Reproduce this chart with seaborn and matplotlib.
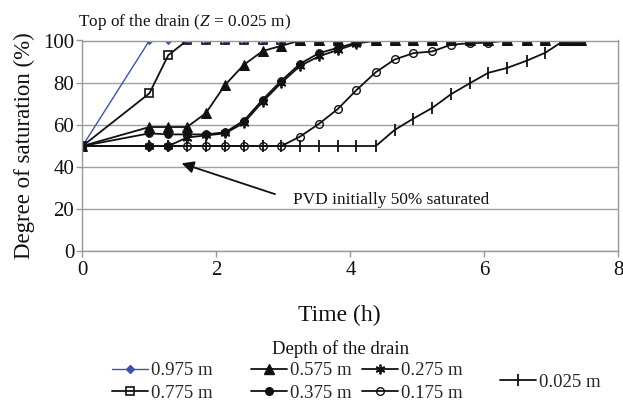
import matplotlib
matplotlib.use("Agg")
import matplotlib.pyplot as plt
import pandas as pd
import seaborn as sns
from matplotlib.lines import Line2D

# Elapsed time of each reading (h)
time_h = [0, 1.00, 1.28, 1.56, 1.84, 2.13, 2.41, 2.69, 2.97, 3.25, 3.53, 3.81, 4.09,
          4.38, 4.66, 4.94, 5.22, 5.50, 5.78, 6.06, 6.34, 6.63, 6.91, 7.19, 7.32, 7.45]

depths = ["0.975 m", "0.775 m", "0.575 m", "0.375 m", "0.275 m", "0.175 m", "0.025 m"]

# Degree of saturation (%) at each depth along the drain
sat_0975 = [50, 100, 100, 100, 100, 100, 100, 100, 100]
sat_0775 = [50, 75, 93, 100, 100, 100, 100, 100, 100, 100, 100, 100, 100,
            100, 100, 100, 100, 100, 100, 100, 100, 100, 100, 100, 100, 100]
sat_0575 = [50, 59, 59, 59, 65.5, 79, 88.5, 95, 97.5, 100, 100, 100, 100,
            100, 100, 100, 100, 100, 100, 100, 100, 100, 100, 100, 100, 100]
sat_0375 = [50, 56, 55.5, 55.5, 55.5, 56.5, 62, 72, 81, 89, 94, 96.5, 99,
            100, 100, 100, 100, 100, 100, 100, 100, 100, 100, 100, 100, 100]
sat_0275 = [50, 50, 50, 54, 55, 56, 61, 71, 80, 88, 92.5, 95.5, 98.5,
            100, 100, 100, 100, 100, 100, 100, 100, 100, 100, 100, 100, 100]
sat_0175 = [50, 50, 50, 50, 50, 50, 50, 50, 50, 54.5, 60.5, 67.5, 76.5,
            85, 91, 94, 94.8, 98, 98.7, 99, 100, 100, 100, 100, 100, 100]
sat_0025 = [50, 50, 50, 50, 50, 50, 50, 50, 50, 50, 50, 50, 50,
            50, 57.6, 63, 68, 74.5, 79.7, 84.7, 87, 90.4, 94.2, 100, 100, 100]

series = [sat_0975, sat_0775, sat_0575, sat_0375, sat_0275, sat_0175, sat_0025]
frames = []
for depth, vals in zip(depths, series):
    frames.append(pd.DataFrame({"time": time_h[:len(vals)], "sat": vals, "depth": depth}))
df = pd.concat(frames, ignore_index=True)

sns.set_theme(style="white")
plt.rcParams["font.family"] = ["Liberation Serif", "DejaVu Serif"]
plt.rcParams["mathtext.fontset"] = "custom"
plt.rcParams["mathtext.rm"] = "Liberation Serif"
plt.rcParams["mathtext.it"] = "Liberation Serif:italic"

BLUE = "#3f52a8"
INK = "#111111"
styles = {
    "0.975 m": dict(color=BLUE, marker="D", markersize=4.5, markerfacecolor=BLUE,
                    markeredgecolor=BLUE, linewidth=1.0),
    "0.775 m": dict(color=INK, marker="s", markersize=5.5, markerfacecolor="none",
                    markeredgecolor=INK, markeredgewidth=1.2, linewidth=1.3),
    "0.575 m": dict(color=INK, marker="^", markersize=6.5, markerfacecolor=INK,
                    markeredgecolor=INK, linewidth=1.3),
    "0.375 m": dict(color=INK, marker="o", markersize=5.5, markerfacecolor=INK,
                    markeredgecolor=INK, linewidth=1.3),
    "0.275 m": dict(color=INK, marker=(6, 2, 0), markersize=7, markerfacecolor=INK,
                    markeredgecolor=INK, markeredgewidth=1.3, linewidth=1.3),
    "0.175 m": dict(color=INK, marker="o", markersize=5.5, markerfacecolor="none",
                    markeredgecolor=INK, markeredgewidth=1.0, linewidth=1.3),
    "0.025 m": dict(color=INK, marker="|", markersize=9, markerfacecolor=INK,
                    markeredgecolor=INK, markeredgewidth=1.3, linewidth=1.3),
}

fig = plt.figure(figsize=(6.23, 4.01), dpi=100)
ax = fig.add_axes([82.5 / 623, 1 - 251.5 / 401, (618.3 - 82.5) / 623, (251.5 - 40.5) / 401])

for depth in depths:
    sub = df[df["depth"] == depth]
    sns.lineplot(data=sub, x="time", y="sat", ax=ax, estimator=None, sort=False,
                 legend=False, **styles[depth])

ax.set_xlim(0, 8)
ax.set_ylim(0, 100)
ax.set_xticks(range(0, 9, 2))
ax.set_yticks(range(0, 101, 20))
ax.yaxis.grid(True, color="#a0a0a0", linewidth=1.0)
ax.set_axisbelow(True)
for side in ["left", "bottom", "top", "right"]:
    ax.spines[side].set_color("#999999")
    ax.spines[side].set_linewidth(1.0)
ax.tick_params(axis="both", direction="out", length=4, width=1, color="#999999",
               labelsize=15, labelcolor="#111111", pad=2)
ax.tick_params(axis="x", bottom=True, pad=3)
ax.tick_params(axis="y", left=True)

ax.set_xlabel("Time (h)", fontsize=17, color="#111111")
ax.set_ylabel("Degree of saturation (%)", fontsize=16.5, color="#111111")
ax.xaxis.set_label_coords((339 - 82.5) / 535.8, (251.5 - 305) / 211)
ax.yaxis.set_label_coords((35 - 82.5) / 535.8, 0.5)

ax.annotate("PVD initially 50% saturated", xy=(1.48, 41.8), xytext=(3.14, 24.4),
            ha="left", va="center", fontsize=12.4, color="#111111",
            arrowprops=dict(arrowstyle="-|>", color="#111111", lw=1.3,
                            mutation_scale=18, shrinkA=11, shrinkB=0,
                            relpos=(0, 0.5)))

fig.text(78 / 623, 1 - 22 / 401, "Top of the drain ($\\mathit{Z}$ = 0.025 m)",
         fontsize=12.4, ha="left", va="center", color="#111111")

fig.text(341 / 623, 1 - 349 / 401, "Depth of the drain", fontsize=13.5,
         ha="center", va="center", color="#111111")


def handle(depth):
    st = styles[depth]
    return Line2D([], [], **st)


columns = [(["0.975 m", "0.775 m"], 112), (["0.575 m", "0.375 m"], 251),
           (["0.275 m", "0.175 m"], 362), (["0.025 m"], 500)]
for labels, x0 in columns:
    fig.legend([handle(d) for d in labels], labels, loc="center left",
               bbox_to_anchor=(x0 / 623, 1 - 382 / 401), frameon=False,
               fontsize=13.5, handlelength=1.9, handletextpad=0.2,
               labelspacing=0.28, borderpad=0, borderaxespad=0)

fig.savefig("out.png", dpi=100)
